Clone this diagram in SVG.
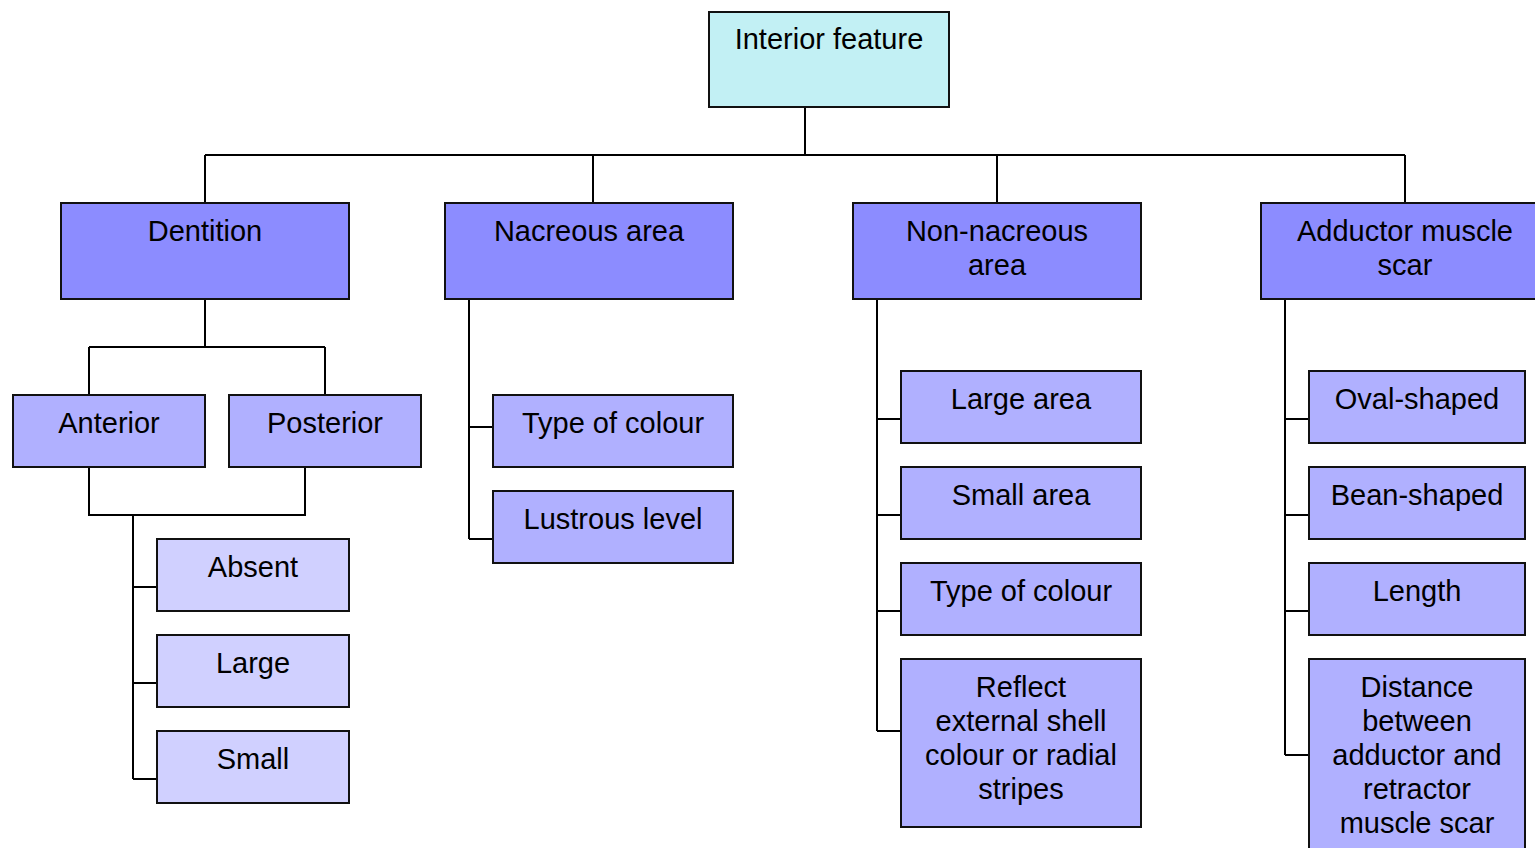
<svg xmlns="http://www.w3.org/2000/svg" width="1535" height="848" viewBox="0 0 1535 848">
<style>
.n{stroke:#111;stroke-width:2}
.c0{fill:#C2F0F4}
.c1{fill:#8C8CFF}
.c2{fill:#B0B0FF}
.c3{fill:#D0D0FF}
text{font-family:"Liberation Sans",Arial,sans-serif;font-size:29px;fill:#000;text-anchor:middle}
#connectors path{fill:none;stroke:#000;stroke-width:2}
</style>
<rect x="0" y="0" width="1535" height="848" fill="#fff"/>
<g id="connectors">
<path d="M805 107V155M205 155H1405M205 155V203M593 155V203M997 155V203M1405 155V203"/>
<path d="M205 299V347M89 347H325M89 347V395M325 347V395"/>
<path d="M89 467V515H305V467M133 515V779M133 587H157M133 683H157M133 779H157"/>
<path d="M469 299V539M469 427H493M469 539H493"/>
<path d="M877 299V731M877 419H901M877 515H901M877 611H901M877 731H901"/>
<path d="M1285 299V755M1285 419H1309M1285 515H1309M1285 611H1309M1285 755H1309"/>
</g>
<g id="interior"><rect class="n c0" x="709" y="12" width="240" height="95"/><text x="829" y="49">Interior feature</text></g>
<g id="dentition"><rect class="n c1" x="61" y="203" width="288" height="96"/><text x="205" y="241">Dentition</text></g>
<g id="nacreous"><rect class="n c1" x="445" y="203" width="288" height="96"/><text x="589" y="241">Nacreous area</text></g>
<g id="nonnacreous"><rect class="n c1" x="853" y="203" width="288" height="96"/><text x="997" y="241">Non-nacreous</text><text x="997" y="275">area</text></g>
<g id="adductor"><rect class="n c1" x="1261" y="203" width="288" height="96"/><text x="1405" y="241">Adductor muscle</text><text x="1405" y="275">scar</text></g>
<g id="anterior"><rect class="n c2" x="13" y="395" width="192" height="72"/><text x="109" y="433">Anterior</text></g>
<g id="posterior"><rect class="n c2" x="229" y="395" width="192" height="72"/><text x="325" y="433">Posterior</text></g>
<g id="absent"><rect class="n c3" x="157" y="539" width="192" height="72"/><text x="253" y="577">Absent</text></g>
<g id="large"><rect class="n c3" x="157" y="635" width="192" height="72"/><text x="253" y="673">Large</text></g>
<g id="small"><rect class="n c3" x="157" y="731" width="192" height="72"/><text x="253" y="769">Small</text></g>
<g id="typecolour1"><rect class="n c2" x="493" y="395" width="240" height="72"/><text x="613" y="433">Type of colour</text></g>
<g id="lustrous"><rect class="n c2" x="493" y="491" width="240" height="72"/><text x="613" y="529">Lustrous level</text></g>
<g id="largearea"><rect class="n c2" x="901" y="371" width="240" height="72"/><text x="1021" y="409">Large area</text></g>
<g id="smallarea"><rect class="n c2" x="901" y="467" width="240" height="72"/><text x="1021" y="505">Small area</text></g>
<g id="typecolour2"><rect class="n c2" x="901" y="563" width="240" height="72"/><text x="1021" y="601">Type of colour</text></g>
<g id="reflect"><rect class="n c2" x="901" y="659" width="240" height="168"/><text x="1021" y="697">Reflect</text><text x="1021" y="731">external shell</text><text x="1021" y="765">colour or radial</text><text x="1021" y="799">stripes</text></g>
<g id="oval"><rect class="n c2" x="1309" y="371" width="216" height="72"/><text x="1417" y="409">Oval-shaped</text></g>
<g id="bean"><rect class="n c2" x="1309" y="467" width="216" height="72"/><text x="1417" y="505">Bean-shaped</text></g>
<g id="length"><rect class="n c2" x="1309" y="563" width="216" height="72"/><text x="1417" y="601">Length</text></g>
<g id="distance"><rect class="n c2" x="1309" y="659" width="216" height="200"/><text x="1417" y="697">Distance</text><text x="1417" y="731">between</text><text x="1417" y="765">adductor and</text><text x="1417" y="799">retractor</text><text x="1417" y="833">muscle scar</text></g>
</svg>
